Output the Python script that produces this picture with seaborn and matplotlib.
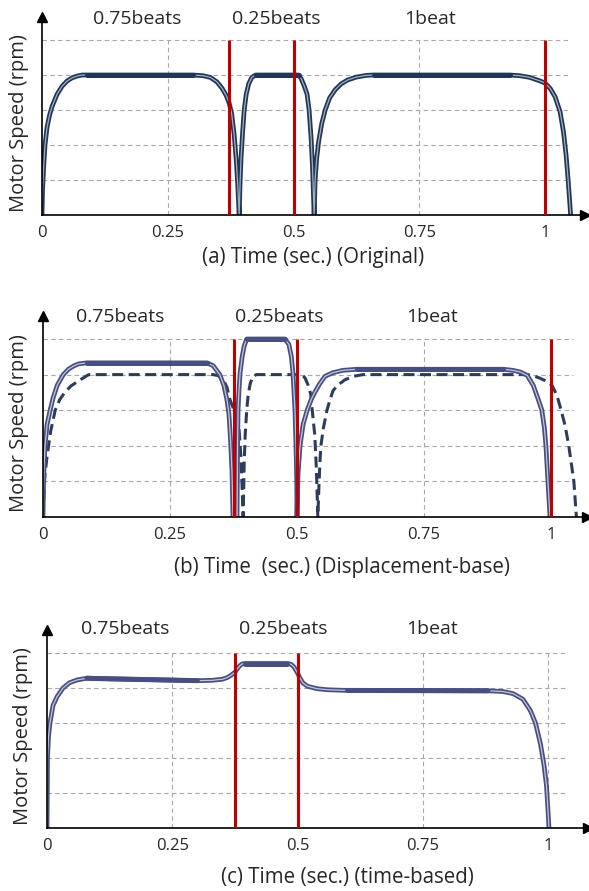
import matplotlib
matplotlib.use('Agg')
import numpy as np
import pandas as pd
import matplotlib.pyplot as plt
import seaborn as sns

# ---- data (time in sec, speed in grid units) ----
a_t = [0, 0.001, 0.003, 0.006, 0.01, 0.015, 0.02, 0.03, 0.04, 0.05, 0.06, 0.07, 0.08, 0.09,
       0.30, 0.32, 0.335, 0.348, 0.358, 0.366, 0.372, 0.377, 0.382, 0.386, 0.389, 0.392,
       0.394, 0.396, 0.399, 0.402, 0.406, 0.411, 0.417, 0.425,
       0.51, 0.515, 0.521, 0.527, 0.531, 0.535, 0.538, 0.541,
       0.543, 0.546, 0.550, 0.556, 0.563, 0.572, 0.583, 0.595, 0.608, 0.625, 0.645, 0.66,
       0.93, 0.95, 0.97, 0.99, 1.0, 1.01, 1.02, 1.03, 1.037, 1.042, 1.046, 1.049, 1.051]
a_v = [0, 0.7, 1.3, 2.0, 2.5, 2.85, 3.1, 3.45, 3.68, 3.83, 3.92, 3.97, 4.0, 4.0,
       4.0, 3.98, 3.93, 3.8, 3.62, 3.42, 3.2, 2.9, 2.3, 1.6, 0.9, 0,
       1.0, 1.7, 2.4, 3.0, 3.45, 3.75, 3.93, 4.0,
       4.0, 3.9, 3.7, 3.45, 3.0, 2.2, 1.3, 0,
       1.0, 1.6, 2.1, 2.6, 3.0, 3.35, 3.58, 3.75, 3.86, 3.94, 3.99, 4.0,
       4.0, 3.98, 3.93, 3.83, 3.77, 3.62, 3.38, 2.95, 2.35, 1.7, 1.0, 0.4, 0]
a_flat = [(0.09, 0.30), (0.425, 0.51), (0.66, 0.93)]
a_red = [0.372, 0.5, 1.0]

b_t = [0, 0.001, 0.002, 0.004, 0.008, 0.014, 0.02, 0.028, 0.04, 0.05, 0.06, 0.07, 0.086,
       0.323, 0.335, 0.348, 0.356, 0.362, 0.366, 0.369, 0.372, 0.374,
       0.382, 0.3825, 0.383, 0.384, 0.386, 0.388, 0.392, 0.396, 0.401,
       0.476, 0.484, 0.489, 0.492, 0.496, 0.498, 0.4995, 0.5,
       0.502, 0.506, 0.512, 0.52, 0.528, 0.535, 0.545, 0.555, 0.57, 0.59, 0.618,
       0.906, 0.925, 0.94, 0.953, 0.965, 0.975, 0.982, 0.987, 0.99, 0.994, 0.998]
b_v = [0, 0.9, 1.4, 2.0, 2.6, 3.0, 3.35, 3.7, 4.0, 4.15, 4.24, 4.3, 4.33,
       4.33, 4.25, 4.0, 3.7, 3.3, 2.9, 2.2, 1.3, 0,
       0, 1.0, 2.0, 3.0, 3.6, 4.05, 4.5, 4.8, 5.0,
       5.0, 4.85, 4.5, 4.05, 3.0, 2.0, 1.0, 0,
       1.2, 2.0, 2.6, 3.0, 3.3, 3.5, 3.75, 3.95, 4.05, 4.12, 4.15,
       4.15, 4.12, 4.07, 3.98, 3.7, 3.3, 3.0, 2.5, 2.0, 1.0, 0]
b_flat = [(0.086, 0.323), (0.401, 0.476), (0.618, 0.906)]
b_red = [0.375, 0.5, 1.0]

d_t = [0, 0.002, 0.004, 0.008, 0.015, 0.024, 0.033, 0.043, 0.055, 0.073, 0.09,
       0.335, 0.345, 0.355, 0.362, 0.368, 0.376, 0.382, 0.386, 0.39, 0.394,
       0.396, 0.398, 0.401, 0.404, 0.408, 0.413, 0.42,
       0.51, 0.516, 0.522, 0.527, 0.53, 0.535, 0.538, 0.541,
       0.543, 0.545, 0.547, 0.552, 0.559, 0.565, 0.571, 0.58, 0.594, 0.61, 0.63,
       0.953, 0.965, 0.978, 0.99, 1.002, 1.012, 1.02, 1.028, 1.035, 1.041, 1.045, 1.05]
d_v = [0, 0.8, 1.2, 1.7, 2.4, 3.0, 3.3, 3.5, 3.68, 3.85, 4.0,
       4.0, 3.97, 3.85, 3.65, 3.3, 3.0, 2.75, 2.45, 1.6, 0,
       1.5, 2.3, 3.0, 3.45, 3.75, 3.95, 4.0,
       4.0, 3.9, 3.7, 3.45, 3.0, 2.3, 1.4, 0,
       0.8, 1.5, 2.0, 2.5, 3.0, 3.3, 3.55, 3.7, 3.85, 3.95, 4.0,
       4.0, 3.97, 3.9, 3.82, 3.7, 3.4, 3.0, 2.55, 2.0, 1.4, 1.0, 0]

c_t = [0, 0.0005, 0.001, 0.003, 0.006, 0.012, 0.02, 0.032, 0.045, 0.06, 0.08, 0.1, 0.2, 0.3,
       0.33, 0.35, 0.36, 0.368, 0.375, 0.38, 0.385, 0.39, 0.395, 0.48, 0.487, 0.493, 0.5,
       0.505, 0.511, 0.52, 0.539, 0.56, 0.6, 0.88, 0.91, 0.93, 0.95, 0.965, 0.975, 0.985,
       0.992, 0.997, 1.0, 1.002]
c_v = [0, 1.0, 2.0, 2.6, 3.0, 3.5, 3.75, 4.0, 4.15, 4.23, 4.28, 4.27, 4.24, 4.21,
       4.22, 4.25, 4.3, 4.37, 4.45, 4.55, 4.64, 4.69, 4.7, 4.7, 4.68, 4.6, 4.43,
       4.28, 4.14, 4.05, 3.98, 3.95, 3.93, 3.92, 3.9, 3.84, 3.68, 3.35, 3.0, 2.4,
       1.8, 1.2, 0.5, 0]
c_flat = [(0.08, 0.3), (0.395, 0.48), (0.6, 0.88)]
c_red = [0.375, 0.5]

xticks = [0, 0.25, 0.5, 0.75, 1]
xtick_labels = ['0', '0.25', '0.5', '0.75', '1']
beat_labels = ['0.75beats', '0.25beats', '1beat']

sns.set_style('white')
plt.rcParams['font.family'] = ['Open Sans', 'DejaVu Sans']

RED = '#c00000'
GRID = '#a8a8a8'
W, H = 589, 891

fig = plt.figure(figsize=(W / 100, H / 100), dpi=100)


def make_axes(left, ux, bottom, uy, xmax, ymax=5.65):
    ax = fig.add_axes([left / W, (H - bottom) / H, xmax * ux / W, ymax * uy / H])
    ax.set_xlim(0, xmax)
    ax.set_ylim(0, ymax)
    return ax


def draw_curve(ax, t, v, flat, dark, light):
    df = pd.DataFrame({'t': t, 'v': v})
    sns.lineplot(data=df, x='t', y='v', ax=ax, color=dark, lw=3.4, sort=False, estimator=None)
    sns.lineplot(data=df, x='t', y='v', ax=ax, color=light, lw=0.9, sort=False, estimator=None)
    for s, e in flat:
        part = df[(df.t >= s) & (df.t <= e)]
        sns.lineplot(data=part, x='t', y='v', ax=ax, color=dark, lw=3.6, sort=False, estimator=None)


def decorate(ax, grid_end, reds, label_x, label_y, xlabel, xl_pos, yl_pos):
    ax.hlines([1, 2, 3, 4, 5], 0, grid_end, colors=GRID, linestyles=(0, (4, 3)), lw=0.8, zorder=0)
    ax.vlines([0.25, 0.5, 0.75, 1], 0, 5, colors=GRID, linestyles=(0, (4, 3)), lw=0.8, zorder=0)
    ax.vlines(reds, 0, 5, colors=RED, lw=2.2, zorder=5)
    for x, s in zip(label_x, beat_labels):
        ax.text(x, label_y, s, ha='center', va='center', fontsize=14, clip_on=False)
    for sp in ['top', 'right']:
        ax.spines[sp].set_visible(False)
    for sp in ['left', 'bottom']:
        ax.spines[sp].set_color('black')
        ax.spines[sp].set_linewidth(1.2)
    ax.plot(1, 0, '>k', ms=7, transform=ax.get_yaxis_transform(), clip_on=False)
    ax.plot(0, 1, '^k', ms=7, transform=ax.get_xaxis_transform(), clip_on=False)
    ax.set_xticks(xticks)
    ax.set_xticklabels(xtick_labels, fontsize=12)
    ax.set_yticks([])
    ax.tick_params(axis='x', length=0, pad=7)
    ax.set_xlabel(xlabel, fontsize=14.8, va='center')
    ax.xaxis.set_label_coords(*xl_pos)
    ax.set_ylabel('Motor Speed (rpm)', fontsize=14.5, va='center')
    ax.yaxis.set_label_coords(*yl_pos)
    ax.grid(False)


# (a) original
ax1 = make_axes(42, 503, 215, 35, 1.08)
draw_curve(ax1, a_t, a_v, a_flat, '#203656', '#a4afc0')
decorate(ax1, 1.045, a_red, [0.189, 0.465, 0.771], 5.6,
         '(a) Time (sec.) (Original)', (0.499, -43 / 197.75), ((19 - 42) / 543, 0.465))

# (b) displacement-based
ax2 = make_axes(43, 508, 517, 35.6, 1.07)
sns.lineplot(x=d_t, y=d_v, ax=ax2, color='#2c3d5c', lw=2.2, dashes=False, sort=False,
             estimator=None).lines[-1].set_dashes((3.6, 1.8))
draw_curve(ax2, b_t, b_v, b_flat, '#474e80', '#c4c7da')
decorate(ax2, 1.043, b_red, [0.152, 0.465, 0.766], 5.62,
         '(b) Time  (sec.) (Displacement-base)', (0.55, -50 / 201.1), ((19 - 43) / 543.6, 0.467))

# (c) time-based
ax3 = make_axes(47, 501, 828, 35, 1.08)
draw_curve(ax3, c_t, c_v, c_flat, '#474e80', '#c4c7da')
decorate(ax3, 1.04, c_red, [0.156, 0.471, 0.768], 5.68,
         '(c) Time (sec.) (time-based)', (0.556, -49 / 197.75), ((23 - 47) / 541, 0.465))

fig.savefig('out.png', dpi=100)
